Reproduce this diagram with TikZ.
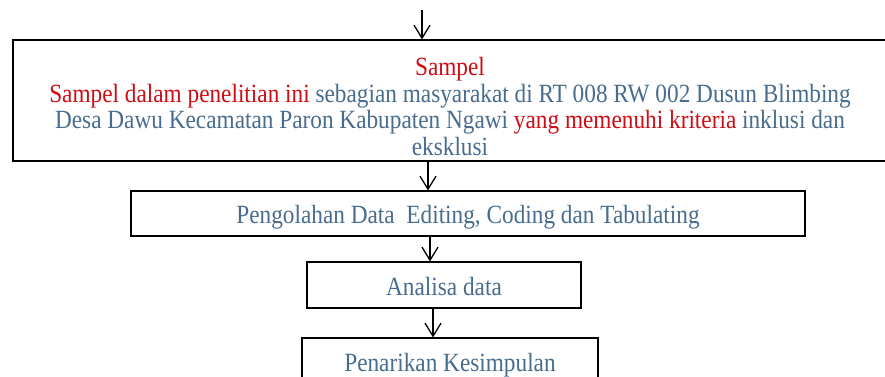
\documentclass[tikz,border=0pt]{standalone}
\usepackage{fontspec}
\setmainfont{Liberation Serif}[FakeStretch=0.885]
\usetikzlibrary{arrows.meta}
\definecolor{txtblue}{RGB}{72,108,142}
\definecolor{txtred}{RGB}{205,12,20}
\begin{document}
\begin{tikzpicture}[x=1pt,y=-1pt,
  box/.style={draw=black,line width=1.2pt,inner sep=0pt},
  lbl/.style={inner sep=0pt,font=\fontsize{26.3}{26.5}\selectfont,text=txtblue,align=center},
  arr/.style={line width=1.3pt,-{Straight Barb[length=13pt,width=16pt,line width=1.3pt]}}]
\useasboundingbox (0,0) rectangle (885,376);
\clip (0,0) rectangle (885,376);
\node[box,minimum width=874pt,minimum height=121pt] (b1) at (450,100.5) {};
\node[lbl] (t1) at (450,106.5)
  {\textcolor{txtred}{Sampel}\\
   \textcolor{txtred}{Sampel dalam penelitian ini} sebagian masyarakat di RT 008 RW 002 Dusun Blimbing\\
   Desa Dawu Kecamatan Paron Kabupaten Ngawi \textcolor{txtred}{yang memenuhi kriteria} inklusi dan\\
   eksklusi};
\node[box,minimum width=674pt,minimum height=45pt] (b2) at (468,213.5) {};
\node[lbl] (t2) at (468,217) {Pengolahan Data\ \ Editing, Coding dan Tabulating};
\node[box,minimum width=274pt,minimum height=46pt] (b3) at (444,285) {};
\node[lbl] (t3) at (444,286.5) {Analisa data};
\node[box,minimum width=296pt,minimum height=46pt] (b4) at (450,361) {};
\node[lbl] (t4) at (450,365) {Penarikan Kesimpulan};
\coordinate (top) at (422,10);
\draw[arr] (top) -- (top |- b1.north);
\draw[arr] ([xshift=-22pt]b1.south) -- ([xshift=-22pt]b1.south |- b2.north);
\draw[arr] ([xshift=-38pt]b2.south) -- ([xshift=-38pt]b2.south |- b3.north);
\draw[arr] ([xshift=-11pt]b3.south) -- ([xshift=-11pt]b3.south |- b4.north);
\end{tikzpicture}
\end{document}
